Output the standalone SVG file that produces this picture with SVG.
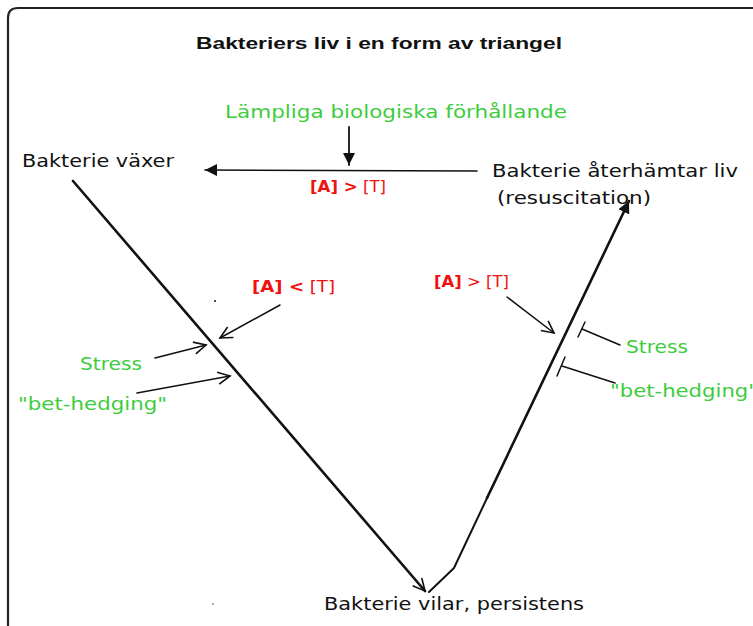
<svg xmlns="http://www.w3.org/2000/svg" width="753" height="626" viewBox="0 0 753 626">
<style>
.t{font-family:"DejaVu Sans","Verdana",sans-serif;font-size:17px;fill:#111}
.g{font-family:"DejaVu Sans","Verdana",sans-serif;font-size:17px;fill:#3dcc3d}
.r{font-family:"DejaVu Sans","Verdana",sans-serif;font-size:16px;fill:#f01010}
.b{font-weight:bold}
.ln{stroke:#111;fill:none;stroke-linecap:round;stroke-linejoin:round}
</style>
<defs>
<marker id="tri" markerUnits="userSpaceOnUse" markerWidth="14" markerHeight="12" refX="12" refY="6" orient="auto">
<path d="M0,0 L12,6 L0,12 Z" fill="#111"/>
</marker>
<marker id="vee" markerUnits="userSpaceOnUse" markerWidth="16" markerHeight="14" refX="13" refY="7" orient="auto">
<path d="M1,1 L13,7 L1,13" fill="none" stroke="#111" stroke-width="1.6"/>
</marker>
</defs>
<rect width="753" height="626" fill="#fff"/>
<path d="M8,640 L8,18 Q8,8 18,8 L760,8" fill="none" stroke="#222" stroke-width="2.2"/>

<g id="title"><text x="196" y="49" style="font-family:'Liberation Sans',sans-serif;font-size:17px;font-weight:bold;fill:#111" textLength="366" lengthAdjust="spacingAndGlyphs">Bakteriers liv i en form av triangel</text></g>

<g id="conditions"><text class="g" x="225" y="118" textLength="342" lengthAdjust="spacingAndGlyphs">Lämpliga biologiska förhållande</text></g>
<g id="grows"><text class="t" x="22" y="167" textLength="152" lengthAdjust="spacingAndGlyphs">Bakterie växer</text></g>
<g id="recovers">
<text class="t" x="492" y="177" textLength="246" lengthAdjust="spacingAndGlyphs">Bakterie återhämtar liv</text>
<text class="t" x="497" y="204" textLength="154" lengthAdjust="spacingAndGlyphs">(resuscitation)</text>
</g>
<g id="rests"><text class="t" x="324" y="610" textLength="260" lengthAdjust="spacingAndGlyphs">Bakterie vilar, persistens</text></g>

<g id="labels-top"><text class="r" x="310" y="192" textLength="76" lengthAdjust="spacingAndGlyphs"><tspan class="b">[A] &gt;</tspan> [T]</text></g>
<g id="labels-left">
<text class="r" x="252" y="292" textLength="83" lengthAdjust="spacingAndGlyphs"><tspan class="b">[A] &lt;</tspan> [T]</text>
<text class="g" x="80" y="370" textLength="62" lengthAdjust="spacingAndGlyphs">Stress</text>
<text class="g" x="18" y="410" textLength="149" lengthAdjust="spacingAndGlyphs">"bet-hedging"</text>
</g>
<g id="labels-right">
<text class="r" x="434" y="287" textLength="75" lengthAdjust="spacingAndGlyphs"><tspan class="b">[A]</tspan> &gt; [T]</text>
<text class="g" x="626" y="353" textLength="62" lengthAdjust="spacingAndGlyphs">Stress</text>
<text class="g" x="610" y="397" textLength="148" lengthAdjust="spacingAndGlyphs">"bet-hedging"</text>
</g>

<g id="connectors">
<line class="ln" x1="349" y1="127" x2="349" y2="165" stroke-width="1.8" marker-end="url(#tri)"/>
<line class="ln" x1="477" y1="171" x2="205" y2="170" stroke-width="1.6" marker-end="url(#tri)"/>
<line class="ln" x1="73" y1="181" x2="425" y2="591" stroke-width="2.6" marker-end="url(#vee)"/>
<polyline class="ln" points="429,592 454,568 488,496" stroke-width="2"/>
<line class="ln" x1="487" y1="498" x2="629" y2="201" stroke-width="2.6" marker-end="url(#tri)"/>
<line class="ln" x1="280" y1="305" x2="220" y2="338" stroke-width="1.5" marker-end="url(#vee)"/>
<line class="ln" x1="155" y1="358" x2="206" y2="345" stroke-width="1.5" marker-end="url(#vee)"/>
<line class="ln" x1="137" y1="393" x2="230" y2="376" stroke-width="1.5" marker-end="url(#vee)"/>
<line class="ln" x1="507" y1="297" x2="554" y2="333" stroke-width="1.5" marker-end="url(#vee)"/>
<line class="ln" x1="620" y1="345" x2="582" y2="329" stroke-width="1.5"/>
<line class="ln" x1="578" y1="337" x2="585" y2="322" stroke-width="1.5"/>
<line class="ln" x1="615" y1="383" x2="562" y2="366" stroke-width="1.5"/>
<line class="ln" x1="557" y1="376" x2="565" y2="357" stroke-width="1.5"/>
<circle cx="215" cy="301" r="1" fill="#111"/>
<circle cx="213" cy="604" r="0.8" fill="#444"/>
</g>
</svg>
